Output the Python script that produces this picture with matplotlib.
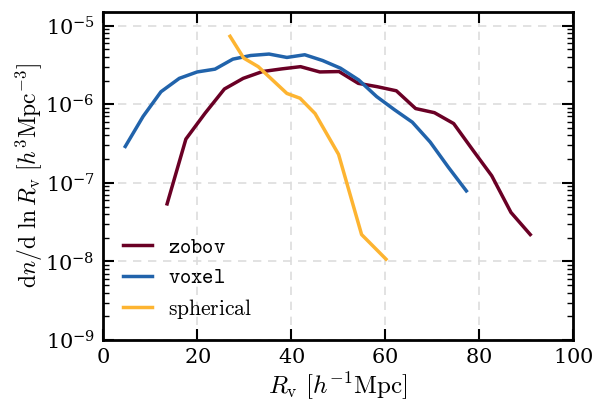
import matplotlib
matplotlib.use("Agg")
import matplotlib.pyplot as plt
from matplotlib.ticker import LogLocator, NullFormatter

# radius bins [Mpc/h] and number densities
r_zobov = [13.6, 17.6, 21.7, 25.8, 29.8, 33.9, 38.0, 42.0, 46.1, 50.2,
           54.3, 58.3, 62.4, 66.5, 70.5, 74.6, 78.7, 82.7, 86.8, 90.9]
n_zobov = [5.4e-8, 3.6e-7, 7.7e-7, 1.56e-6, 2.13e-6, 2.6e-6, 2.81e-6, 3.0e-6, 2.57e-6, 2.6e-6,
           1.84e-6, 1.67e-6, 1.48e-6, 8.8e-7, 7.8e-7, 5.67e-7, 2.6e-7, 1.23e-7, 4.2e-8, 2.2e-8]

r_voxel = [4.7, 8.5, 12.3, 16.2, 20.0, 23.8, 27.6, 31.4, 35.3, 39.1,
           42.9, 46.7, 50.5, 54.4, 58.2, 62.0, 65.8, 69.6, 73.5, 77.3]
n_voxel = [2.9e-7, 7.0e-7, 1.44e-6, 2.13e-6, 2.57e-6, 2.79e-6, 3.74e-6, 4.16e-6, 4.34e-6, 3.93e-6,
           4.25e-6, 3.59e-6, 2.87e-6, 2.03e-6, 1.25e-6, 8.5e-7, 5.9e-7, 3.3e-7, 1.57e-7, 7.9e-8]

r_sph = [27.0, 29.9, 33.0, 39.1, 41.9, 45.1, 50.1, 55.0, 60.2]
n_sph = [7.3e-6, 3.86e-6, 3.0e-6, 1.37e-6, 1.19e-6, 7.6e-7, 2.3e-7, 2.2e-8, 1.07e-8]

labels = [r'$\mathtt{zobov}$', r'$\mathtt{voxel}$', r'$\mathrm{spherical}$']
colors = ['#6a0025', '#2163ab', '#fdb431']

plt.rcParams['mathtext.fontset'] = 'cm'
plt.rcParams['font.family'] = 'serif'
plt.rcParams['font.serif'] = ['DejaVu Serif']
plt.rcParams['axes.formatter.use_mathtext'] = True

fig = plt.figure(figsize=(6.0, 4.03), dpi=100)
ax = fig.add_axes([0.172, 0.156, 0.783, 0.815])

ax.plot(r_zobov, n_zobov, color=colors[0], lw=2.5, label=labels[0])
ax.plot(r_voxel, n_voxel, color=colors[1], lw=2.5, label=labels[1])
ax.plot(r_sph, n_sph, color=colors[2], lw=2.5, label=labels[2])

ax.set_yscale('log')
ax.set_xlim(0, 100)
ax.set_ylim(1e-9, 1.5e-5)
ax.set_xticks([0, 20, 40, 60, 80, 100])
ax.yaxis.set_major_locator(LogLocator(base=10, numticks=10))
ax.yaxis.set_minor_locator(LogLocator(base=10, subs=range(2, 10), numticks=20))
ax.yaxis.set_minor_formatter(NullFormatter())

ax.grid(True, which='major', ls=(0, (5, 4)), color='#dddddd', lw=1.2)
ax.tick_params(which='both', direction='in', top=True, right=True, labelsize=15)
ax.tick_params(which='major', length=8, width=1.5, pad=6)
ax.tick_params(which='minor', length=4, width=1.0)
for s in ax.spines.values():
    s.set_linewidth(2.0)

ax.set_xlabel(r'$R_\mathrm{v}\ [h^{-1}\mathrm{Mpc}]$', fontsize=18, labelpad=2)
ax.set_ylabel(r'$\mathrm{d}n/\mathrm{d}\ \ln R_\mathrm{v}\ [h^3\mathrm{Mpc}^{-3}]$', fontsize=17, labelpad=0)

ax.legend(loc='lower left', frameon=False, fontsize=15.5, handlelength=1.35,
          handletextpad=0.75, labelspacing=0.4, bbox_to_anchor=(0.0, 0.0))

fig.savefig('out.png', dpi=100)
